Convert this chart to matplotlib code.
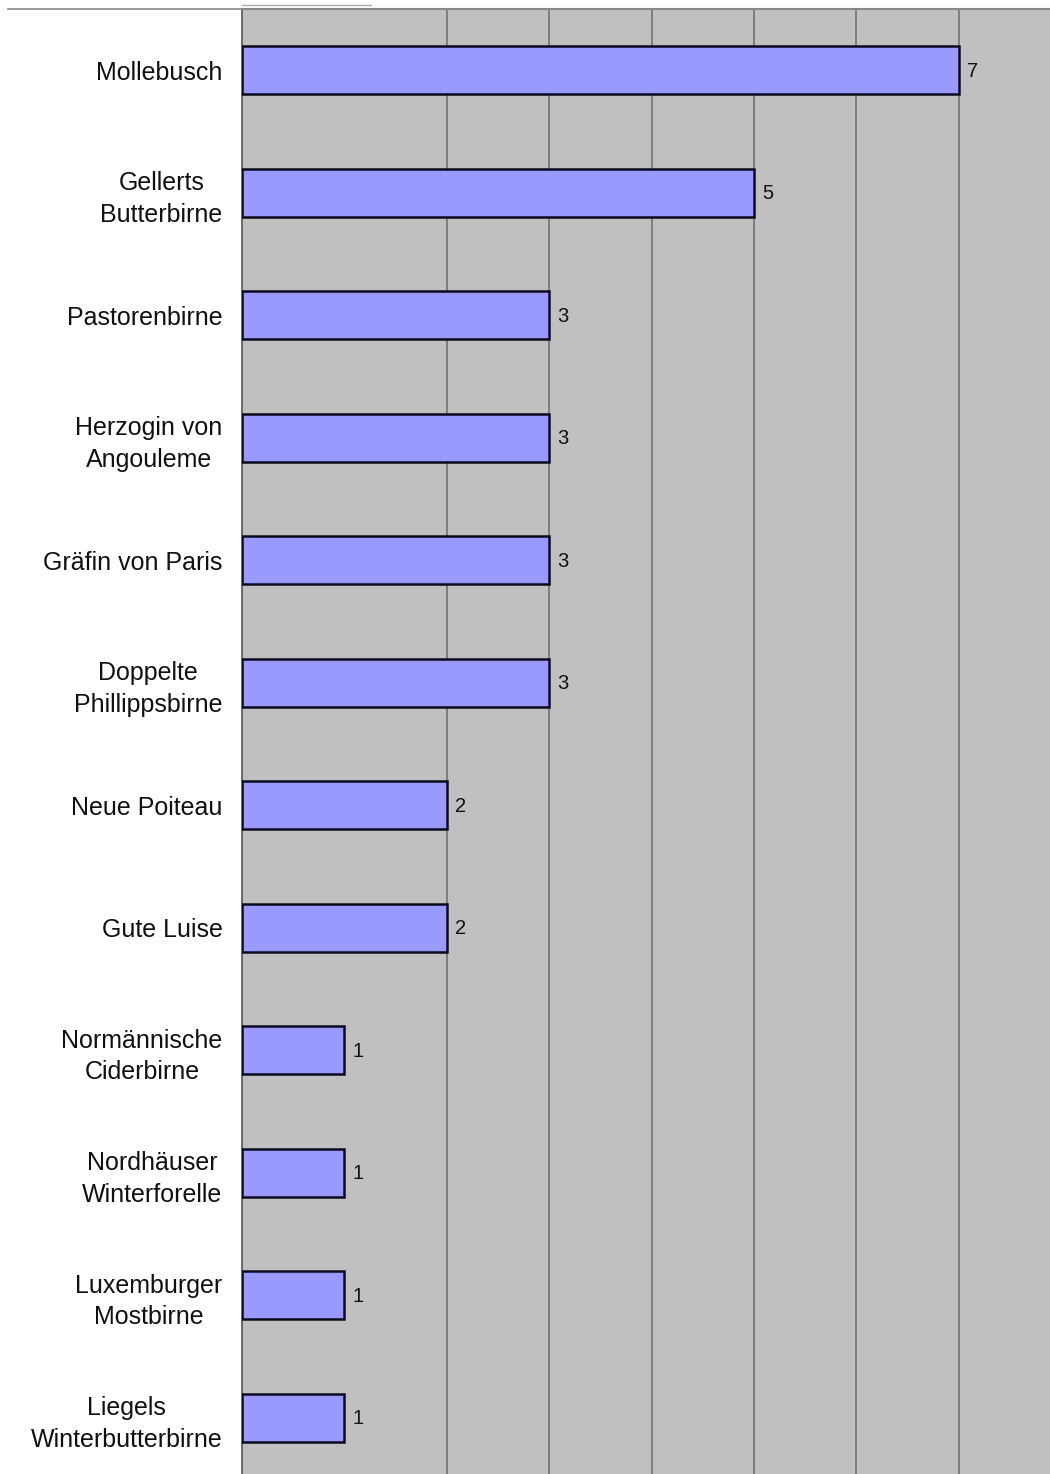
import matplotlib.pyplot as plt
from matplotlib.lines import Line2D

sorten = [
    'Mollebusch', 'Gellerts\nButterbirne', 'Pastorenbirne', 'Herzogin von\nAngouleme',
    'Gräfin von Paris', 'Doppelte\nPhillippsbirne', 'Neue Poiteau', 'Gute Luise',
    'Normännische\nCiderbirne', 'Nordhäuser\nWinterforelle', 'Luxemburger\nMostbirne',
    'Liegels\nWinterbutterbirne',
]
anzahl = [7, 5, 3, 3, 3, 3, 2, 2, 1, 1, 1, 1]

plt.rcParams['font.family'] = ['Liberation Sans', 'DejaVu Sans']

W, H = 1050, 1474
fig = plt.figure(figsize=(W / 100, H / 100), dpi=100)
ax = fig.add_axes([242 / W, -5 / H, (W - 242) / W, 1470 / H])
ax.set_facecolor('#c0c0c0')

pos = list(range(len(sorten)))
ax.barh(pos, anzahl, height=0.39, color='#9999ff', edgecolor='#0a0a1e', linewidth=1.8, zorder=3)
for y, v in zip(pos, anzahl):
    ax.text(v + 0.08, y + 0.01, str(v), va='center', ha='left', fontsize=14.5, color='#111111', zorder=4)

ax.set_xlim(0, (W - 242) / 102.4)
ax.set_ylim(len(sorten) - 0.5, -0.5)
# Gitterlinien erst ab 2
ax.set_xticks(range(2, 8))
ax.xaxis.grid(True, color='#6a6a6a', linewidth=1.1)
ax.set_axisbelow(True)
ax.tick_params(axis='x', length=0, labelbottom=False)
ax.tick_params(axis='y', length=0, pad=14)
ax.set_yticks(pos)
ax.set_yticklabels(sorten, fontsize=18, multialignment='center', linespacing=1.4, color='#111111')

for s in ['right', 'bottom']:
    ax.spines[s].set_visible(False)
ax.spines['left'].set_color('#555555')
ax.spines['left'].set_linewidth(1.2)
ax.spines['top'].set_color('#888888')
ax.spines['top'].set_linewidth(1.5)

# Trennlinien oberhalb des Diagramms
fig.add_artist(Line2D([8 / W, 242 / W], [1 - 9 / H, 1 - 9 / H], color='#888888', linewidth=1.2))
fig.add_artist(Line2D([242 / W, 371 / W], [1 - 5 / H, 1 - 5 / H], color='#aaaaaa', linewidth=1.0))

fig.savefig('out.png', dpi=100)
